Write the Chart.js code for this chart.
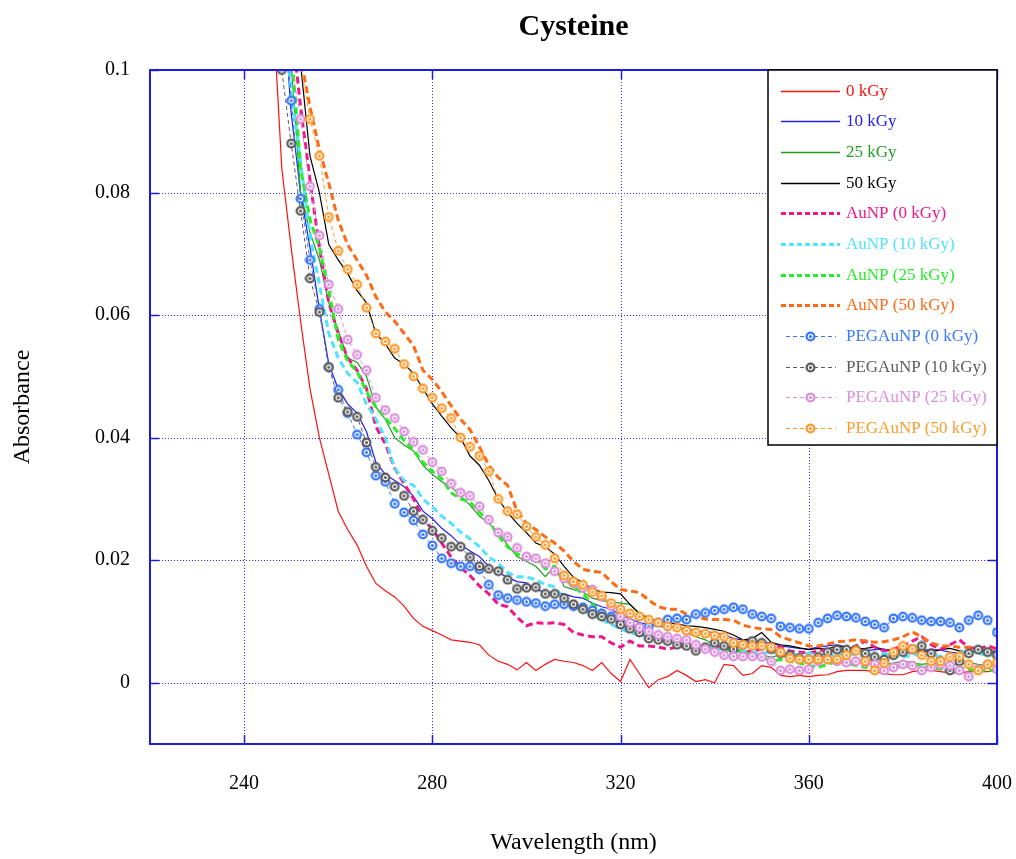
<!DOCTYPE html>
<html>
<head>
<meta charset="utf-8">
<title>Cysteine</title>
<script src="https://cdn.jsdelivr.net/npm/chart.js@4.4.1/dist/chart.umd.min.js"></script>
<style>
  html, body { margin: 0; padding: 0; background: #fff; }
  canvas { display: block; }
</style>
</head>
<body>
<canvas id="chart" width="1016" height="859"></canvas>
<script>
// wavelength grid (nm)
const wavelengths = [
  246, 248, 250, 252, 254, 256, 258, 260, 262, 264,
  266, 268, 270, 272, 274, 276, 278, 280, 282, 284,
  286, 288, 290, 292, 294, 296, 298, 300, 302, 304,
  306, 308, 310, 312, 314, 316, 318, 320, 322, 324,
  326, 328, 330, 332, 334, 336, 338, 340, 342, 344,
  346, 348, 350, 352, 354, 356, 358, 360, 362, 364,
  366, 368, 370, 372, 374, 376, 378, 380, 382, 384,
  386, 388, 390, 392, 394, 396, 398, 400
];

const cys0 = [
  0.112, 0.084, 0.071, 0.059, 0.048, 0.040, 0.034, 0.028, 0.025, 0.0225,
  0.019, 0.0162, 0.015, 0.014, 0.0125, 0.0105, 0.0092, 0.0085, 0.0078, 0.007,
  0.0068, 0.0066, 0.0062, 0.0045, 0.0035, 0.003, 0.0021, 0.0033, 0.002, 0.003,
  0.0038, 0.0035, 0.0033, 0.0028, 0.002, 0.0033, 0.0015, 0.0002, 0.0038, 0.0015,
  -0.0008, 0.0005, 0.001, 0.002, 0.0012, 0.0002, 0.0005, 0.0, 0.003, 0.0028,
  0.0012, 0.0015, 0.0028, 0.0025, 0.0012, 0.001, 0.0012, 0.001, 0.0012, 0.0013,
  0.0018, 0.002, 0.002, 0.002, 0.0018, 0.0015, 0.0013, 0.0013, 0.0018, 0.002,
  0.002, 0.0018, 0.0016, 0.0016, 0.0018, 0.0018, 0.0018, 0.002
];
const cys10 = [
  0.13, 0.115, 0.093, 0.080, 0.071, 0.061, 0.052, 0.048, 0.0455, 0.044,
  0.041, 0.036, 0.034, 0.033, 0.032, 0.0304, 0.028, 0.0268, 0.0252, 0.024,
  0.0225, 0.0215, 0.0206, 0.019, 0.018, 0.0172, 0.0165, 0.0163, 0.0152, 0.0148,
  0.0147, 0.0145, 0.014, 0.0138, 0.013, 0.0124, 0.012, 0.011, 0.0105, 0.0098,
  0.0095, 0.0092, 0.0091, 0.009, 0.0088, 0.0085, 0.0083, 0.0082, 0.0078, 0.0072,
  0.007, 0.0068, 0.0066, 0.0065, 0.006, 0.0058, 0.0056, 0.0055, 0.0058, 0.006,
  0.0062, 0.0058, 0.0055, 0.0052, 0.0054, 0.0055, 0.0052, 0.005, 0.0048, 0.0052,
  0.0055, 0.0053, 0.005, 0.0048, 0.005, 0.0052, 0.005, 0.0048
];
const cys25 = [
  0.135, 0.12, 0.101, 0.080, 0.0735, 0.069, 0.062, 0.0575, 0.053, 0.0523,
  0.050, 0.045, 0.043, 0.040, 0.0388, 0.0378, 0.0355, 0.034, 0.0328, 0.032,
  0.0305, 0.029, 0.0272, 0.026, 0.0245, 0.0225, 0.0206, 0.0198, 0.019, 0.0173,
  0.019, 0.0157, 0.0152, 0.0148, 0.0138, 0.0134, 0.0132, 0.013, 0.0128, 0.0114,
  0.0105, 0.0098, 0.0092, 0.009, 0.0082, 0.0075, 0.007, 0.0062, 0.0055, 0.0052,
  0.005, 0.0048, 0.0045, 0.0042, 0.0045, 0.004, 0.0038, 0.0036, 0.0038, 0.004,
  0.0035, 0.0033, 0.0035, 0.0038, 0.0035, 0.003, 0.0032, 0.0035, 0.0033, 0.003,
  0.0032, 0.003, 0.0028, 0.003, 0.0033, 0.003, 0.0028, 0.003
];
const cys50 = [
  0.14, 0.13, 0.115, 0.101, 0.086, 0.080, 0.0715, 0.069, 0.0668, 0.064,
  0.062, 0.057, 0.0553, 0.053, 0.052, 0.0505, 0.048, 0.0455, 0.0435, 0.0416,
  0.040, 0.037, 0.0355, 0.033, 0.030, 0.0278, 0.026, 0.0245, 0.0228, 0.0222,
  0.021, 0.019, 0.0172, 0.0163, 0.0153, 0.0148, 0.0147, 0.0145, 0.0128, 0.0112,
  0.0105, 0.010, 0.0098, 0.0096, 0.0093, 0.0092, 0.009, 0.0087, 0.0084, 0.0078,
  0.007, 0.0072, 0.0082, 0.0066, 0.0062, 0.006, 0.0057, 0.0054, 0.0056, 0.0055,
  0.006, 0.0058, 0.0055, 0.0056, 0.0058, 0.0054, 0.0052, 0.0056, 0.0055, 0.0052,
  0.005, 0.0054, 0.0056, 0.0052, 0.005, 0.0052, 0.0054, 0.005
];
const aunp0 = [
  0.14, 0.125, 0.108, 0.094, 0.082, 0.071, 0.062, 0.057, 0.053, 0.051,
  0.048, 0.0418, 0.039, 0.035, 0.0325, 0.030, 0.027, 0.025, 0.0228, 0.0205,
  0.0188, 0.0175, 0.0158, 0.0145, 0.0128, 0.0124, 0.0107, 0.0093, 0.0098, 0.0097,
  0.0098, 0.0095, 0.0082, 0.0078, 0.0075, 0.0075, 0.0065, 0.0058, 0.0068, 0.006,
  0.006, 0.0058, 0.0055, 0.0058, 0.006, 0.0058, 0.0055, 0.0058, 0.006, 0.0055,
  0.005, 0.0052, 0.0055, 0.006, 0.0058, 0.0052, 0.005, 0.0048, 0.0052, 0.0055,
  0.005, 0.0052, 0.006, 0.0068, 0.0058, 0.0052, 0.0055, 0.006, 0.0068, 0.0075,
  0.0062, 0.0055, 0.0062, 0.007, 0.0058, 0.0055, 0.006, 0.0055
];
const aunp10 = [
  0.125, 0.11, 0.097, 0.085, 0.073, 0.065, 0.057, 0.053, 0.0505, 0.049,
  0.0455, 0.043, 0.040, 0.035, 0.033, 0.0322, 0.030, 0.0287, 0.0272, 0.026,
  0.0246, 0.0235, 0.0222, 0.0205, 0.0195, 0.018, 0.0173, 0.0173, 0.0168, 0.016,
  0.0157, 0.0135, 0.0125, 0.0118, 0.011, 0.0103, 0.0095, 0.0088, 0.0082, 0.0078,
  0.0075, 0.0072, 0.007, 0.0065, 0.0062, 0.006, 0.0058, 0.0056, 0.0055, 0.0055,
  0.0052, 0.005, 0.0048, 0.005, 0.0048, 0.0045, 0.0046, 0.0048, 0.0045, 0.0043,
  0.0046, 0.0048, 0.0045, 0.0043, 0.0045, 0.0048, 0.0045, 0.0042, 0.0045, 0.0047,
  0.0045, 0.0043, 0.0045, 0.0048, 0.0052, 0.0048, 0.0045, 0.0045
];
const aunp25 = [
  0.135, 0.12, 0.104, 0.084, 0.0756, 0.071, 0.064, 0.056, 0.0525, 0.0508,
  0.0475, 0.045, 0.0432, 0.0415, 0.0395, 0.038, 0.036, 0.0345, 0.0333, 0.031,
  0.030, 0.0295, 0.0278, 0.0264, 0.024, 0.0222, 0.021, 0.0205, 0.0203, 0.0186,
  0.019, 0.017, 0.0157, 0.0145, 0.0128, 0.0118, 0.0105, 0.0093, 0.0088, 0.0082,
  0.0076, 0.0073, 0.0068, 0.0065, 0.0062, 0.006, 0.0058, 0.0055, 0.0052, 0.0054,
  0.005, 0.0045, 0.0042, 0.0035, 0.0038, 0.0035, 0.0032, 0.0028, 0.0025, 0.003,
  0.0035, 0.0032, 0.0028, 0.0025, 0.003, 0.0033, 0.0028, 0.0025, 0.003, 0.0028,
  0.0025, 0.0022, 0.0028, 0.0025, 0.0022, 0.0018, 0.0022, 0.0018
];
const aunp50 = [
  0.14, 0.135, 0.12, 0.102, 0.094, 0.087, 0.0815, 0.0755, 0.0715, 0.069,
  0.0665, 0.063, 0.0605, 0.059, 0.057, 0.055, 0.051, 0.0495, 0.0475, 0.0452,
  0.043, 0.0413, 0.0385, 0.0355, 0.0335, 0.0322, 0.028, 0.026, 0.025, 0.0238,
  0.0228, 0.0215, 0.0198, 0.0185, 0.0182, 0.018, 0.0165, 0.0152, 0.015, 0.0147,
  0.0135, 0.0124, 0.012, 0.012, 0.0112, 0.0108, 0.0104, 0.0103, 0.0103, 0.0102,
  0.0094, 0.009, 0.0088, 0.0087, 0.0075, 0.007, 0.0065, 0.006, 0.006, 0.0063,
  0.0067, 0.0068, 0.007, 0.0068, 0.0066, 0.0067, 0.007, 0.0075, 0.0083, 0.0075,
  0.0065, 0.006, 0.006, 0.0058, 0.0058, 0.0057, 0.0055, 0.0054
];
const peg0 = [
  0.14, 0.12, 0.095, 0.079, 0.069, 0.061, 0.0515, 0.0478, 0.044, 0.0405,
  0.0376, 0.0338, 0.0328, 0.0292, 0.0278, 0.0265, 0.0242, 0.0224, 0.0203, 0.0195,
  0.019, 0.019, 0.0185, 0.016, 0.0143, 0.0138, 0.0135, 0.0132, 0.013, 0.0125,
  0.0128, 0.0128, 0.0125, 0.0123, 0.0118, 0.0113, 0.0108, 0.0098, 0.0092, 0.009,
  0.0092, 0.0098, 0.0103, 0.0105, 0.0103, 0.0112, 0.0114, 0.0118, 0.012, 0.0123,
  0.012, 0.0112, 0.0108, 0.0105, 0.0092, 0.009, 0.0088, 0.0088, 0.0098, 0.0105,
  0.011, 0.0108, 0.0106, 0.01, 0.0095, 0.009, 0.0105, 0.0108, 0.0106, 0.0102,
  0.01, 0.01, 0.0098, 0.009, 0.0102, 0.011, 0.0102, 0.0082
];
const peg10 = [
  0.118, 0.1, 0.088, 0.077, 0.066, 0.0605, 0.0515, 0.0465, 0.0442, 0.0434,
  0.0392, 0.0352, 0.0335, 0.032, 0.0305, 0.028, 0.0266, 0.0248, 0.0236, 0.0222,
  0.0222, 0.0205, 0.019, 0.0186, 0.0182, 0.0168, 0.0153, 0.0155, 0.0156, 0.0145,
  0.0145, 0.0138, 0.0128, 0.012, 0.0112, 0.0108, 0.0104, 0.0095, 0.0088, 0.0082,
  0.0072, 0.007, 0.0068, 0.0062, 0.006, 0.0052, 0.0058, 0.0065, 0.006, 0.0055,
  0.0062, 0.0068, 0.0065, 0.0055, 0.0048, 0.0045, 0.004, 0.0038, 0.0042, 0.005,
  0.0054, 0.0054, 0.0054, 0.0048, 0.0042, 0.0038, 0.0045, 0.005, 0.0055, 0.006,
  0.0048, 0.0035, 0.002, 0.0035, 0.0048, 0.0054, 0.005, 0.0045
];
const peg25 = [
  0.125, 0.11, 0.101, 0.092, 0.081, 0.073, 0.065, 0.061, 0.056, 0.0535,
  0.051, 0.0465, 0.0445, 0.0432, 0.041, 0.0393, 0.038, 0.036, 0.0345, 0.0325,
  0.031, 0.0305, 0.0288, 0.0266, 0.0245, 0.0238, 0.022, 0.0206, 0.0203, 0.0195,
  0.0182, 0.017, 0.0162, 0.0155, 0.0152, 0.014, 0.0125, 0.0108, 0.0098, 0.009,
  0.0084, 0.0078, 0.0075, 0.0072, 0.007, 0.0062, 0.0055, 0.005, 0.0045, 0.0043,
  0.0043, 0.0043, 0.0042, 0.0035, 0.002, 0.0022, 0.002, 0.0022, 0.0035, 0.0038,
  0.0035, 0.0033, 0.0035, 0.0033, 0.003, 0.002, 0.0025, 0.003, 0.0028, 0.002,
  0.0025, 0.003, 0.0028, 0.002, 0.001, 0.0022, 0.003, 0.0022
];
const peg50 = [
  0.14, 0.13, 0.117, 0.101, 0.092, 0.086, 0.076, 0.0705, 0.0675, 0.065,
  0.0612, 0.057, 0.0557, 0.0545, 0.052, 0.050, 0.048, 0.0465, 0.0448, 0.0432,
  0.040, 0.0385, 0.037, 0.0345, 0.030, 0.028, 0.0275, 0.0255, 0.0238, 0.0225,
  0.0203, 0.0175, 0.0165, 0.016, 0.0148, 0.0142, 0.013, 0.012, 0.0113, 0.0108,
  0.0103, 0.0098, 0.0092, 0.009, 0.0085, 0.0082, 0.008, 0.0077, 0.0075, 0.0065,
  0.0062, 0.006, 0.006, 0.0058, 0.005, 0.004, 0.0038, 0.0038, 0.0038, 0.0038,
  0.0038, 0.0045, 0.0052, 0.0035, 0.002, 0.0032, 0.005, 0.006, 0.0055, 0.0045,
  0.0035, 0.0035, 0.0042, 0.0043, 0.003, 0.002, 0.003, 0.0033
];

const seriesLabels = ['0 kGy', '10 kGy', '25 kGy', '50 kGy',
  'AuNP (0 kGy)', 'AuNP (10 kGy)', 'AuNP (25 kGy)', 'AuNP (50 kGy)',
  'PEGAuNP (0 kGy)', 'PEGAuNP (10 kGy)', 'PEGAuNP (25 kGy)', 'PEGAuNP (50 kGy)'];
const seriesValues = [cys0, cys10, cys25, cys50, aunp0, aunp10, aunp25, aunp50, peg0, peg10, peg25, peg50];
const seriesColors = ['#ff1010', '#2020f0', '#209a20', '#000000',
  '#f0168c', '#4fe3ff', '#26ee26', '#ff6a14',
  '#3878ff', '#5c5c5c', '#dc8ede', '#ff9a2c'];
const seriesKinds = ['solid', 'solid', 'solid', 'solid',
  'dash', 'dash', 'dash', 'dash',
  'marker', 'marker', 'marker', 'marker'];

const xTicks = [240, 280, 320, 360, 400];
const xTickLabels = ['240', '280', '320', '360', '400'];
const yTicks = [0, 0.02, 0.04, 0.06, 0.08, 0.1];
const yTickLabels = ['0', '0.02', '0.04', '0.06', '0.08', '0.1'];

const SERIF = '"Liberation Serif", "Times New Roman", serif';
const AXIS_BLUE = '#1c1ce0';
const GRID_BLUE = '#2a2aff';

// round marker: coloured disc with a white ring inside
function markerImage(color) {
    const c = document.createElement('canvas');
    c.width = 11; c.height = 11;
    const g = c.getContext('2d');
    g.fillStyle = color;
    g.beginPath(); g.arc(5.5, 5.5, 5, 0, Math.PI * 2); g.fill();
    g.strokeStyle = '#fff';
    g.lineWidth = 1.2;
    g.beginPath(); g.arc(5.5, 5.5, 2.2, 0, Math.PI * 2); g.stroke();
    return c;
}
const markers = seriesColors.map(markerImage);

const datasets = seriesLabels.map((label, i) => {
    const kind = seriesKinds[i];
    return {
        label: label,
        data: wavelengths.map((w, j) => ({ x: w, y: seriesValues[i][j] })),
        borderColor: seriesColors[i],
        backgroundColor: seriesColors[i],
        borderWidth: kind === 'dash' ? 3 : (kind === 'solid' ? 1.2 : 1),
        borderDash: kind === 'dash' ? [7, 4] : (kind === 'marker' ? [4, 3] : []),
        pointRadius: kind === 'marker' ? 5 : 0,
        pointStyle: kind === 'marker' ? markers[i] : 'circle',
        tension: 0,
        clip: 0,
        order: seriesLabels.length - i
    };
});

function line(ctx, x1, y1, x2, y2) {
    ctx.beginPath(); ctx.moveTo(x1, y1); ctx.lineTo(x2, y2); ctx.stroke();
}

// dotted grid under the curves
const gridPlugin = {
    id: 'gridPlugin',
    beforeDatasetsDraw(chart) {
        const { ctx, chartArea: a, scales: { x, y } } = chart;
        ctx.save();
        ctx.strokeStyle = GRID_BLUE;
        ctx.lineWidth = 1;
        ctx.setLineDash([1, 2]);
        xTicks.forEach(v => {
            const px = Math.round(x.getPixelForValue(v)) + 0.5;
            line(ctx, px, a.top, px, a.bottom);
        });
        yTicks.forEach(v => {
            const py = Math.round(y.getPixelForValue(v)) + 0.5;
            line(ctx, a.left, py, a.right, py);
        });
        ctx.restore();
    }
};

// frame, inner ticks, legend box and titles
const framePlugin = {
    id: 'framePlugin',
    afterDatasetsDraw(chart) {
        const { ctx, chartArea: a, scales: { x, y } } = chart;
        ctx.save();
        ctx.strokeStyle = AXIS_BLUE;
        ctx.lineWidth = 2;
        ctx.strokeRect(a.left, a.top, a.right - a.left, a.bottom - a.top);
        ctx.lineWidth = 1.5;
        xTicks.forEach(v => {
            const px = Math.round(x.getPixelForValue(v)) + 0.5;
            line(ctx, px, a.top, px, a.top + 9);
            line(ctx, px, a.bottom, px, a.bottom - 9);
        });
        yTicks.forEach(v => {
            const py = Math.round(y.getPixelForValue(v)) + 0.5;
            line(ctx, a.left, py, a.left + 9, py);
            line(ctx, a.right, py, a.right - 9, py);
        });

        // legend
        const lx = 768, ly = a.top, lw = a.right - 768, lh = 375;
        ctx.fillStyle = '#fff';
        ctx.fillRect(lx, ly, lw, lh);
        ctx.strokeStyle = '#000';
        ctx.lineWidth = 1.5;
        ctx.strokeRect(lx, ly, lw, lh);
        ctx.font = '17px ' + SERIF;
        ctx.textBaseline = 'middle';
        ctx.textAlign = 'left';
        seriesLabels.forEach((label, i) => {
            const ry = Math.round(ly + 20.7 + i * 30.66) + 0.5;
            const kind = seriesKinds[i];
            ctx.strokeStyle = seriesColors[i];
            if (kind === 'solid') {
                ctx.lineWidth = 1.5; ctx.setLineDash([]);
                line(ctx, 781, ry, 840, ry);
            } else if (kind === 'dash') {
                ctx.lineWidth = 3; ctx.setLineDash([5, 3]);
                line(ctx, 781, ry, 840, ry);
            } else {
                ctx.lineWidth = 1; ctx.setLineDash([4, 3]);
                line(ctx, 786, ry, 836, ry);
                ctx.setLineDash([]);
                ctx.drawImage(markers[i], 805, ry - 5.5);
            }
            ctx.setLineDash([]);
            ctx.fillStyle = seriesColors[i];
            ctx.fillText(label, 846, ry);
        });
        ctx.restore();
    },
    afterDraw(chart) {
        const { ctx, chartArea: a } = chart;
        const cx = (a.left + a.right) / 2;
        ctx.save();
        ctx.fillStyle = '#000';
        ctx.textAlign = 'center';
        ctx.textBaseline = 'middle';
        ctx.font = 'bold 30px ' + SERIF;
        ctx.fillText('Cysteine', cx, 27);
        ctx.font = '24px ' + SERIF;
        ctx.fillText('Wavelength (nm)', cx, 843);
        ctx.translate(23, (a.top + a.bottom) / 2);
        ctx.rotate(-Math.PI / 2);
        ctx.fillText('Absorbance', 0, 0);
        ctx.restore();
    }
};

new Chart(document.getElementById('chart'), {
    type: 'line',
    data: { datasets: datasets },
    options: {
        responsive: false,
        animation: false,
        devicePixelRatio: 1,
        layout: { padding: { top: 70, right: 19, left: 0, bottom: 0 } },
        plugins: {
            legend: { display: false },
            title: { display: false },
            tooltip: { enabled: false }
        },
        scales: {
            x: {
                type: 'linear',
                min: 220, max: 400,
                afterBuildTicks: s => { s.ticks = xTicks.map(v => ({ value: v })); },
                afterFit: s => { s.height = 115; s.paddingLeft = 0; s.paddingRight = 0; },
                grid: { display: false, drawTicks: false },
                border: { display: false },
                ticks: {
                    color: '#000', padding: 28, maxRotation: 0, autoSkip: false,
                    font: { family: SERIF, size: 20 },
                    callback: (v, i) => xTickLabels[i]
                }
            },
            y: {
                type: 'linear',
                min: -0.01, max: 0.1,
                afterBuildTicks: s => { s.ticks = yTicks.map(v => ({ value: v })); },
                afterFit: s => { s.width = 150; s.paddingTop = 0; s.paddingBottom = 0; },
                grid: { display: false, drawTicks: false },
                border: { display: false },
                ticks: {
                    color: '#000', padding: 20, autoSkip: false,
                    font: { family: SERIF, size: 20 },
                    callback: (v, i) => yTickLabels[i]
                }
            }
        }
    },
    plugins: [gridPlugin, framePlugin]
});
</script>
</body>
</html>
